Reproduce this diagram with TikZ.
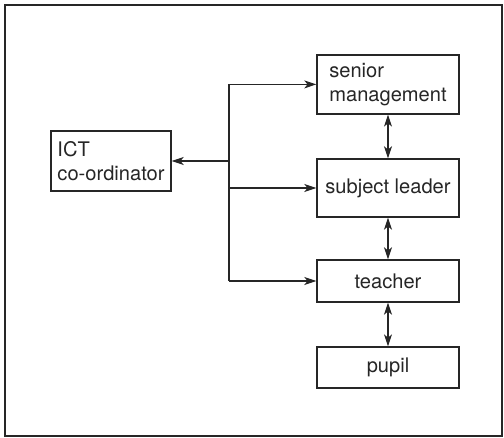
\documentclass[tikz,border=0pt]{standalone}
\usepackage{fontspec}
\setmainfont{TeX Gyre Heros}
\usetikzlibrary{arrows.meta,positioning}

\tikzset{
  box/.style={draw=black!85, line width=1pt, rectangle, inner sep=0pt,
    minimum width=3.55cm, align=left, text=black!85,
    font=\fontsize{14.3}{17.2}\selectfont},
  link/.style={draw=black!85, line width=0.8pt,
    -{Stealth[length=0.3cm,width=0.2cm,inset=0.08cm]}},
  twoway/.style={link, {Stealth[length=0.3cm,width=0.2cm,inset=0.08cm]}-{Stealth[length=0.3cm,width=0.2cm,inset=0.08cm]}}
}

\begin{document}
\begin{tikzpicture}
    \useasboundingbox (0,0) rectangle (12.6,10.95);
    % Frame
    \draw[black!85, line width=1pt] (0.125,0.05) rectangle (12.55,10.825);

    % Chain of roles
    \node[box, minimum height=1.475cm] (senior) at (9.7,8.84) {senior\\management};
    \node[box, minimum height=1.45cm] (subject) at (9.7,6.25) {subject leader};
    \node[box, minimum height=1.05cm] (teacher) at (9.7,3.925) {teacher};
    \node[box, minimum height=1.025cm] (pupil) at (9.7,1.76) {pupil};

    % Coordinator
    \node[box, minimum width=3cm, minimum height=1.5cm] (ict) at (2.775,6.925) {ICT\\co-ordinator};

    % Branching lines
    \coordinate (hub) at (5.725,6.925);
    \draw[black!85, line width=0.8pt] (hub |- senior.west) -- (hub |- teacher.west);
    \draw[link] (hub |- senior.west) -- (senior.west);
    \draw[link] (hub |- subject.west) -- (subject.west);
    \draw[link] (hub |- teacher.west) -- (teacher.west);
    \draw[link] (hub) -- (ict.east);

    % Two-way links
    \draw[twoway] (senior) -- (subject);
    \draw[twoway] (subject) -- (teacher);
    \draw[twoway] (teacher) -- (pupil);
\end{tikzpicture}
\end{document}
